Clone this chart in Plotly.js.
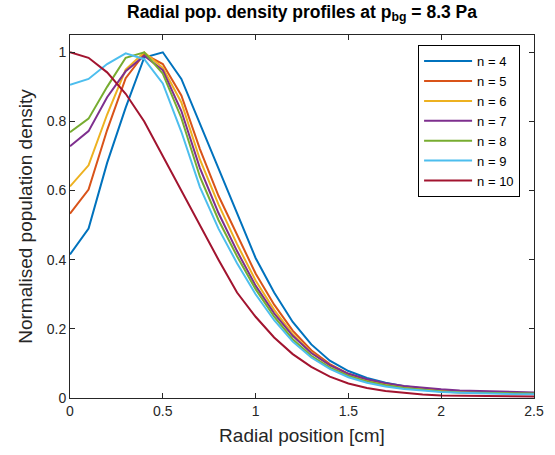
<!DOCTYPE html>
<html>
<head>
<meta charset="utf-8">
<script src="https://cdn.plot.ly/plotly-3.0.1.min.js"></script>
<style>html,body{margin:0;padding:0;background:#fff;}#chart{width:555px;height:455px;}</style>
</head>
<body>
<div id="chart"></div>
<script>
const radius = [0,0.1,0.2,0.3,0.4,0.5,0.6,0.7,0.8,0.9,1.0,1.1,1.2,1.3,1.4,1.5,1.6,1.7,1.8,1.9,2.0,2.1,2.2,2.3,2.4,2.5];
const n4  = [0.415,0.49,0.68,0.84,0.985,1.0,0.923,0.795,0.665,0.535,0.405,0.305,0.22,0.155,0.108,0.078,0.058,0.044,0.034,0.027,0.022,0.019,0.017,0.015,0.014,0.013];
const n5  = [0.533,0.603,0.775,0.925,0.995,0.966,0.875,0.72,0.585,0.47,0.36,0.27,0.195,0.138,0.098,0.07,0.052,0.04,0.031,0.025,0.021,0.018,0.016,0.015,0.014,0.014];
const n6  = [0.612,0.673,0.82,0.95,1.0,0.955,0.855,0.69,0.56,0.445,0.34,0.255,0.185,0.132,0.094,0.067,0.05,0.038,0.03,0.024,0.02,0.017,0.015,0.014,0.013,0.013];
const n7  = [0.728,0.772,0.87,0.945,0.99,0.948,0.83,0.665,0.535,0.425,0.325,0.245,0.18,0.13,0.095,0.07,0.054,0.043,0.035,0.029,0.025,0.022,0.02,0.018,0.017,0.016];
const n8  = [0.769,0.808,0.9,0.984,1.0,0.938,0.81,0.64,0.515,0.41,0.315,0.235,0.17,0.122,0.088,0.064,0.048,0.037,0.029,0.023,0.019,0.016,0.015,0.014,0.013,0.013];
const n9  = [0.906,0.923,0.966,0.997,0.98,0.91,0.77,0.61,0.49,0.39,0.30,0.225,0.163,0.117,0.084,0.06,0.044,0.033,0.026,0.021,0.017,0.015,0.013,0.012,0.011,0.011];
const n10 = [1.0,0.984,0.942,0.88,0.80,0.70,0.60,0.50,0.40,0.305,0.235,0.175,0.127,0.09,0.062,0.042,0.029,0.02,0.014,0.01,0.007,0.006,0.005,0.004,0.004,0.004];
const seriesNames = ['n = 4','n = 5','n = 6','n = 7','n = 8','n = 9','n = 10'];
const seriesData = [n4,n5,n6,n7,n8,n9,n10];
const colors = ['#0072BD','#D95319','#EDB120','#7E2F8E','#77AC30','#4DBEEE','#A2142F'];
const xTicks = [0,0.5,1,1.5,2,2.5];
const xTickText = ['0','0.5','1','1.5','2','2.5'];
const yTicks = [0,0.2,0.4,0.6,0.8,1];
const yTickText = ['0','0.2','0.4','0.6','0.8','1'];

const FONT = 'Liberation Sans, Arial, Helvetica, sans-serif';
const traces = seriesData.map((d,i)=>({
  x: radius, y: d, name: seriesNames[i], type: 'scatter', mode: 'lines',
  line: {color: colors[i], width: 2}, hoverinfo: 'skip'
}));

const axisCommon = {
  showline: true, linecolor: '#262626', linewidth: 1, mirror: 'ticks',
  ticks: 'inside', ticklen: 5, tickwidth: 1, tickcolor: '#262626',
  showgrid: false, zeroline: false,
  tickfont: {family: FONT, size: 14, color: '#262626'}
};

const layout = {
  width: 555, height: 455,
  margin: {l: 70, r: 21, t: 35, b: 57},
  paper_bgcolor: '#fff', plot_bgcolor: '#fff',
  showlegend: true,
  title: {
    text: '<b>Radial pop. density profiles at p<sub>bg</sub> = 8.3 Pa</b>',
    font: {family: FONT, size: 17.5, color: '#000'},
    x: 0.5, xref: 'paper', xanchor: 'center', y: 0.988, yref: 'container', yanchor: 'top'
  },
  xaxis: Object.assign({}, axisCommon, {
    range: [0, 2.5], tickvals: xTicks, ticktext: xTickText,
    title: {text: 'Radial position [cm]', font: {family: FONT, size: 19, color: '#262626'}, standoff: 10}
  }),
  yaxis: Object.assign({}, axisCommon, {
    range: [0, 1.05], tickvals: yTicks, ticktext: yTickText,
    title: {text: 'Normalised population density', font: {family: FONT, size: 19, color: '#262626'}, standoff: 9}
  }),
  legend: {
    x: 0.97, y: 0.972, xanchor: 'right', yanchor: 'top',
    bgcolor: '#fff', bordercolor: '#000', borderwidth: 1,
    font: {family: FONT, size: 13, color: '#000'},
    tracegroupgap: 0, itemwidth: 48
  }
};

Plotly.newPlot('chart', traces, layout, {displayModeBar: false, staticPlot: true});
</script>
</body>
</html>
